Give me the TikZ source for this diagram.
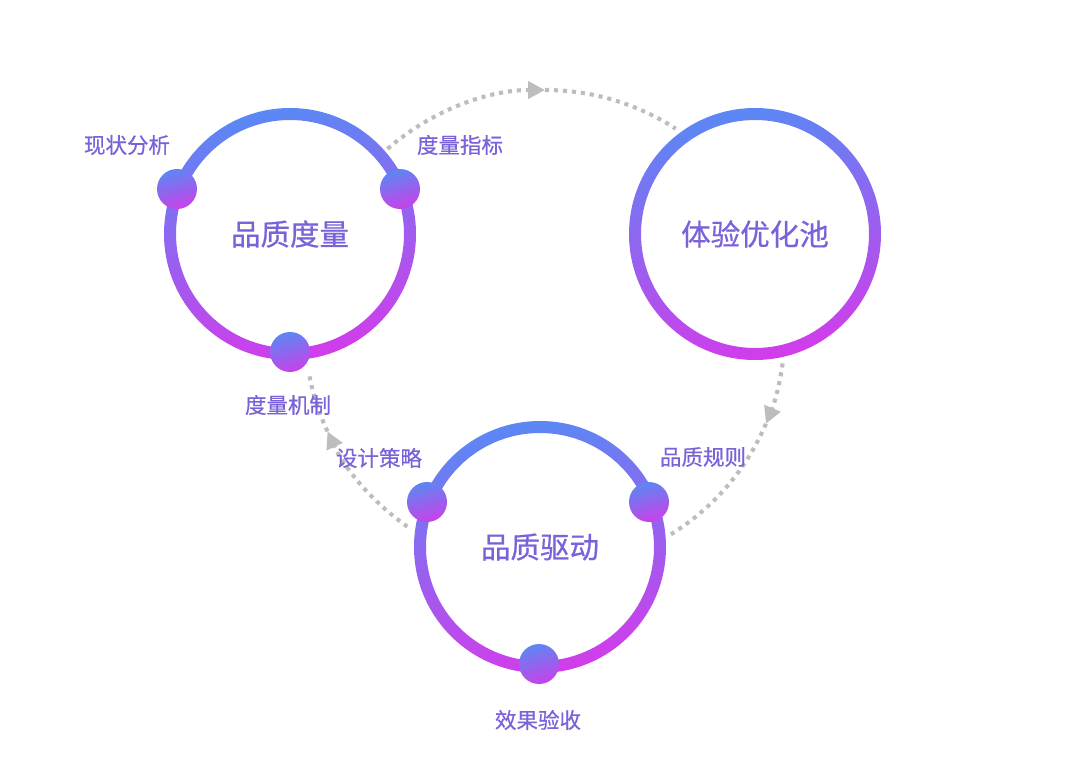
\documentclass[tikz,border=0pt]{standalone}
\usepackage{fontspec}
\setmainfont{Noto Sans CJK SC}
\newfontfamily\medfont{Noto Sans CJK SC}[FakeBold=0.6]
\usetikzlibrary{arrows.meta,calc}
\definecolor{ringA}{HTML}{5A88F4}
\definecolor{ringB}{HTML}{D23CEA}
\definecolor{dotA}{HTML}{5C87F2}
\definecolor{dotB}{HTML}{C941E8}
\definecolor{txt}{HTML}{7C62D8}
\definecolor{conn}{HTML}{BDBDBD}
\tikzset{
  ringshade/.style={top color=ringA, bottom color=ringB, shading angle=10, even odd rule},
  dotshade/.style={top color=dotA, bottom color=dotB, shading angle=15},
  title/.style={text=txt, font=\medfont\fontsize{21pt}{25pt}\selectfont, inner sep=0pt},
  lab/.style={text=txt, font=\medfont\fontsize{15.3pt}{18pt}\selectfont, inner sep=0pt},
  dotline/.style={draw=conn, line width=2.9pt, dash pattern=on 2.9pt off 3.5pt},
  tip/.style={-{Triangle[length=12pt,width=12pt,fill=conn,color=conn]}}
}
\begin{document}
\begin{tikzpicture}[x=0.025cm,y=0.025cm]
\useasboundingbox (0,0) rectangle (1080,772);
% centres
\coordinate (B) at (545,442);
\node[title] (c1) at (290,538) {品质度量};
\node[title] (c2) at (755,538) {体验优化池};
\node[title] (c3) at (540,225) {品质驱动};
% connectors on one large circle
\coordinate (a1s) at ($(B)+(131:240)$);
\coordinate (a2s) at ($(B)+(-8:240)$);
\coordinate (a3s) at ($(B)+(235:240)$);
\coordinate (a1m) at ($(B)+(90:240)$);
\coordinate (a2m) at ($(B)+(-23:240)$);
\coordinate (a3m) at ($(B)+(205:240)$);
\draw[dotline, tip] (a1s) arc[start angle=131, end angle=90, radius=240];
\draw[dotline] (a1m) arc[start angle=90, end angle=57, radius=240];
\draw[dotline, tip] (a2s) arc[start angle=-8, end angle=-23, radius=240];
\draw[dotline] (a2m) arc[start angle=-23, end angle=-59, radius=240];
\draw[dotline, tip] (a3s) arc[start angle=235, end angle=205, radius=240];
\draw[dotline] (a3m) arc[start angle=205, end angle=190, radius=240];
% rings
\shade[ringshade] (c1) circle[radius=126] (c1) circle[radius=114];
\shade[ringshade] (c2) circle[radius=126] (c2) circle[radius=114];
\shade[ringshade] (c3) circle[radius=126] (c3) circle[radius=114];
% dots
\coordinate (d1l) at (177,583);
\coordinate (d1r) at (400,583);
\coordinate (d1b) at (290,420);
\coordinate (d3l) at (427,270);
\coordinate (d3r) at (649,270);
\coordinate (d3b) at (539,108);
\foreach \d in {d1l,d1r,d1b,d3l,d3r,d3b}{
  \shade[dotshade] (\d) circle[radius=20];
}
% labels
\node[lab] (l1) at (127,627) {现状分析};
\node[lab] (l2) at (460,627) {度量指标};
\node[lab] (l3) at (288,367) {度量机制};
\node[lab] (l4) at (379,314) {设计策略};
\node[lab] (l5) at (703,315) {品质规则};
\node[lab] (l6) at (538,52) {效果验收};
\end{tikzpicture}
\end{document}
